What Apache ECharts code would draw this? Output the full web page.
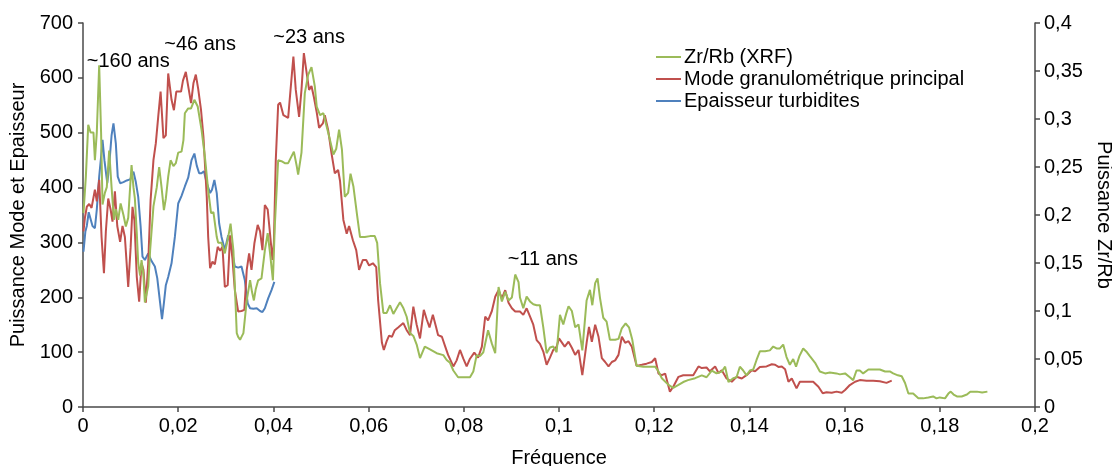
<!DOCTYPE html>
<html>
<head>
<meta charset="utf-8">
<script src="https://cdn.jsdelivr.net/npm/echarts@6/dist/echarts.min.js"></script>
<style>
html,body{margin:0;padding:0;background:#fff;}
#chart{width:1112px;height:466px;}
</style>
</head>
<body>
<div id="chart"></div>
<script>
// ---- Data ----
const seriesNames = ['Zr/Rb (XRF)', 'Mode granulométrique principal', 'Epaisseur turbidites'];
const seriesColors = ['#9BBB59', '#C0504D', '#4F81BD'];

// Zr/Rb (XRF) — right axis (Puissance Zr/Rb)
const zrRbFreq = [
0.0001,0.0006,0.0011,0.0016,0.0022,0.0025,0.0029,0.0034,0.0038,0.0041,
0.0046,0.0050,0.0055,0.0060,0.0065,0.0069,0.0074,0.0079,0.0085,0.0090,
0.0095,0.0099,0.0102,0.0106,0.0109,0.0113,0.0116,0.0120,0.0123,0.0127,
0.0130,0.0134,0.0137,0.0141,0.0148,0.0155,0.0160,0.0165,0.0170,0.0174,
0.0179,0.0184,0.0190,0.0195,0.0200,0.0207,0.0211,0.0214,0.0221,0.0227,
0.0234,0.0241,0.0249,0.0256,0.0263,0.0269,0.0274,0.0281,0.0284,0.0291,
0.0298,0.0305,0.0310,0.0316,0.0319,0.0323,0.0326,0.0330,0.0333,0.0337,
0.0344,0.0351,0.0355,0.0359,0.0363,0.0368,0.0375,0.0382,0.0388,0.0393,
0.0399,0.0403,0.0410,0.0417,0.0424,0.0431,0.0437,0.0443,0.0449,0.0452,
0.0459,0.0466,0.0473,0.0480,0.0487,0.0491,0.0498,0.0505,0.0512,0.0519,
0.0526,0.0532,0.0538,0.0544,0.0550,0.0557,0.0562,0.0568,0.0576,0.0582,
0.0592,0.0603,0.0613,0.0618,0.0624,0.0631,0.0638,0.0645,0.0652,0.0659,
0.0666,0.0673,0.0680,0.0687,0.0694,0.0701,0.0708,0.0718,0.0729,0.0743,
0.0757,0.0764,0.0771,0.0778,0.0788,0.0799,0.0813,0.0820,0.0827,0.0834,
0.0841,0.0851,0.0859,0.0866,0.0873,0.0880,0.0887,0.0894,0.0901,0.0908,
0.0915,0.0918,0.0925,0.0932,0.0939,0.0946,0.0953,0.0960,0.0967,0.0974,
0.0981,0.0988,0.0995,0.1002,0.1009,0.1015,0.1020,0.1027,0.1034,0.1041,
0.1049,0.1058,0.1065,0.1070,0.1076,0.1081,0.1086,0.1093,0.1100,0.1107,
0.1118,0.1125,0.1132,0.1140,0.1147,0.1154,0.1163,0.1177,0.1188,0.1202,
0.1209,0.1216,0.1230,0.1240,0.1251,0.1261,0.1271,0.1286,0.1300,0.1310,
0.1321,0.1331,0.1342,0.1349,0.1356,0.1366,0.1373,0.1380,0.1387,0.1394,
0.1401,0.1408,0.1415,0.1422,0.1433,0.1443,0.1450,0.1457,0.1464,0.1471,
0.1478,0.1485,0.1492,0.1498,0.1505,0.1513,0.1521,0.1527,0.1538,0.1548,
0.1559,0.1569,0.1583,0.1590,0.1601,0.1611,0.1618,0.1625,0.1632,0.1639,
0.1650,0.1664,0.1674,0.1685,0.1695,0.1702,0.1712,0.1720,0.1727,0.1734,
0.1744,0.1755,0.1765,0.1776,0.1786,0.1793,0.1800,0.1811,0.1818,0.1823,
0.1829,0.1836,0.1846,0.1857,0.1864,0.1878,0.1889,0.1900
];
const zrRbValues = [
0.202,0.240,0.294,0.286,0.286,0.257,0.286,0.356,0.286,0.211,
0.223,0.229,0.267,0.229,0.195,0.206,0.195,0.212,0.200,0.188,
0.197,0.229,0.252,0.229,0.217,0.181,0.150,0.137,0.153,0.137,
0.109,0.111,0.126,0.163,0.209,0.229,0.250,0.229,0.205,0.217,
0.240,0.257,0.251,0.254,0.265,0.266,0.278,0.306,0.311,0.311,
0.320,0.313,0.289,0.261,0.226,0.202,0.203,0.177,0.171,0.171,
0.160,0.177,0.191,0.163,0.126,0.077,0.073,0.070,0.073,0.077,
0.111,0.132,0.120,0.111,0.123,0.132,0.134,0.163,0.181,0.160,
0.132,0.189,0.257,0.256,0.254,0.254,0.260,0.266,0.251,0.242,
0.265,0.327,0.346,0.354,0.334,0.313,0.304,0.306,0.292,0.278,
0.263,0.269,0.289,0.268,0.219,0.223,0.243,0.230,0.199,0.177,
0.177,0.178,0.178,0.171,0.129,0.098,0.098,0.106,0.097,0.103,
0.109,0.103,0.094,0.077,0.074,0.065,0.051,0.063,0.060,0.056,
0.054,0.049,0.046,0.038,0.031,0.031,0.031,0.037,0.054,0.053,
0.057,0.080,0.066,0.056,0.125,0.110,0.120,0.111,0.114,0.138,
0.130,0.114,0.103,0.115,0.110,0.107,0.106,0.106,0.083,0.056,
0.062,0.063,0.057,0.096,0.086,0.097,0.105,0.100,0.083,0.086,
0.059,0.111,0.122,0.106,0.129,0.134,0.114,0.093,0.089,0.070,
0.070,0.071,0.082,0.087,0.083,0.070,0.043,0.042,0.042,0.042,
0.037,0.030,0.023,0.020,0.023,0.026,0.028,0.030,0.033,0.031,
0.038,0.035,0.037,0.042,0.026,0.030,0.031,0.042,0.038,0.033,
0.038,0.039,0.049,0.058,0.058,0.059,0.063,0.061,0.061,0.065,
0.052,0.044,0.050,0.042,0.053,0.061,0.057,0.053,0.046,0.037,
0.035,0.036,0.035,0.034,0.035,0.031,0.028,0.038,0.038,0.035,
0.039,0.039,0.039,0.037,0.037,0.035,0.033,0.032,0.025,0.014,
0.014,0.009,0.009,0.010,0.011,0.009,0.010,0.009,0.014,0.016,
0.013,0.011,0.011,0.013,0.016,0.016,0.015,0.016
];

// Mode granulométrique principal — left axis
const modeFreq = [
0.0001,0.0004,0.0008,0.0013,0.0018,0.0025,0.0029,0.0034,0.0039,0.0044,
0.0048,0.0053,0.0058,0.0062,0.0067,0.0072,0.0078,0.0083,0.0088,0.0095,
0.0100,0.0104,0.0108,0.0113,0.0118,0.0123,0.0127,0.0132,0.0137,0.0142,
0.0148,0.0153,0.0158,0.0163,0.0169,0.0174,0.0179,0.0186,0.0191,0.0196,
0.0200,0.0206,0.0210,0.0216,0.0221,0.0227,0.0232,0.0237,0.0242,0.0248,
0.0253,0.0260,0.0263,0.0267,0.0272,0.0277,0.0283,0.0288,0.0293,0.0298,
0.0304,0.0309,0.0314,0.0319,0.0326,0.0333,0.0339,0.0344,0.0349,0.0354,
0.0360,0.0367,0.0372,0.0377,0.0382,0.0388,0.0393,0.0398,0.0401,0.0405,
0.0410,0.0414,0.0421,0.0431,0.0436,0.0442,0.0447,0.0454,0.0459,0.0464,
0.0470,0.0475,0.0480,0.0485,0.0491,0.0496,0.0504,0.0508,0.0515,0.0522,
0.0529,0.0536,0.0540,0.0547,0.0554,0.0559,0.0567,0.0574,0.0580,0.0588,
0.0595,0.0601,0.0609,0.0616,0.0620,0.0628,0.0632,0.0638,0.0643,0.0649,
0.0655,0.0662,0.0673,0.0680,0.0687,0.0694,0.0701,0.0708,0.0716,0.0722,
0.0728,0.0735,0.0742,0.0746,0.0754,0.0761,0.0767,0.0778,0.0785,0.0792,
0.0799,0.0806,0.0813,0.0822,0.0830,0.0838,0.0845,0.0851,0.0859,0.0866,
0.0873,0.0880,0.0887,0.0894,0.0901,0.0908,0.0918,0.0925,0.0932,0.0939,
0.0946,0.0953,0.0960,0.0967,0.0974,0.0981,0.0988,0.0995,0.1000,0.1012,
0.1020,0.1027,0.1034,0.1041,0.1049,0.1058,0.1063,0.1069,0.1076,0.1083,
0.1090,0.1097,0.1104,0.1111,0.1118,0.1125,0.1132,0.1139,0.1146,0.1153,
0.1163,0.1174,0.1184,0.1195,0.1202,0.1209,0.1216,0.1223,0.1233,0.1240,
0.1251,0.1261,0.1271,0.1282,0.1293,0.1300,0.1310,0.1317,0.1328,0.1335,
0.1342,0.1352,0.1363,0.1373,0.1384,0.1394,0.1405,0.1412,0.1422,0.1436,
0.1447,0.1454,0.1461,0.1468,0.1475,0.1482,0.1489,0.1494,0.1499,0.1506,
0.1520,0.1534,0.1545,0.1554,0.1562,0.1573,0.1583,0.1594,0.1601,0.1611,
0.1622,0.1632,0.1646,0.1660,0.1674,0.1688,0.1699
];
const modeValues = [
320,345,365,370,363,396,375,414,310,244,
320,380,360,338,393,330,301,330,310,219,
290,365,340,237,192,262,250,190,262,377,
450,481,529,575,490,495,608,560,541,575,
578,575,595,611,585,554,590,606,580,541,
493,383,310,253,265,260,292,285,292,219,
222,313,270,213,174,175,177,250,280,250,
298,332,320,286,368,360,315,268,300,450,
551,555,532,527,578,639,578,529,578,645,
608,578,585,565,537,509,517,532,505,463,
426,432,412,341,316,330,304,286,250,268,
268,258,262,255,195,117,104,120,130,128,
140,145,153,140,131,183,150,125,177,160,
145,168,145,131,128,110,95,74,85,104,
88,74,88,99,90,110,165,158,175,201,
213,198,213,190,180,174,174,168,180,165,
150,122,115,101,77,90,104,110,125,110,
119,108,95,104,58,117,146,119,150,128,
89,82,74,82,85,95,128,117,120,110,
75,77,79,82,89,61,58,61,28,37,
55,58,58,58,74,71,72,65,74,62,
67,52,46,55,52,58,67,65,73,74,
78,77,73,74,69,46,52,43,34,46,
46,46,37,25,27,26,28,26,31,40,
46,49,48,48,47,44,48
];

// Epaisseur turbidites — left axis
const epaisseurFreq = [
0.0001,0.0005,0.0008,0.0012,0.0015,0.0020,0.0025,0.0029,0.0034,0.0038,
0.0041,0.0045,0.0051,0.0055,0.0060,0.0064,0.0069,0.0073,0.0078,0.0085,
0.0092,0.0099,0.0106,0.0111,0.0116,0.0121,0.0125,0.0130,0.0137,0.0144,
0.0151,0.0156,0.0162,0.0166,0.0170,0.0174,0.0179,0.0186,0.0193,0.0200,
0.0207,0.0214,0.0221,0.0228,0.0234,0.0239,0.0244,0.0249,0.0254,0.0260,
0.0267,0.0271,0.0276,0.0281,0.0286,0.0291,0.0298,0.0305,0.0312,0.0319,
0.0326,0.0333,0.0340,0.0346,0.0351,0.0358,0.0365,0.0372,0.0377,0.0382,
0.0389,0.0396,0.0402
];
const epaisseurValues = [
283,320,330,355,354,330,326,360,420,456,
487,450,408,440,495,517,480,420,408,410,
413,415,429,410,383,330,274,268,280,266,
256,235,190,160,190,222,237,262,310,371,
385,402,418,450,462,440,426,426,430,408,
390,396,414,390,335,310,286,313,290,256,
254,256,231,189,180,179,180,175,173,180,
198,213,228
];

// Period annotations: [frequence, puissance (left axis), text]
const annotations = [
  [0.0095, 629, '~160 ans'],
  [0.0246, 660, '~46 ans'],
  [0.0475, 674, '~23 ans'],
  [0.0966, 268, '~11 ans']
];

// Axis settings
const xTicks = {min: 0, max: 0.2, interval: 0.02};
const leftTicks = {min: 0, max: 700, interval: 100};
const rightTicks = {min: 0, max: 0.4, interval: 0.05};

// ---- Chart ----
const zip = (xs, ys) => xs.map((x, i) => [x, ys[i]]);
const FONT = '"Liberation Sans", Arial, sans-serif';
const AXIS_COLOR = '#4a4a4a';
const TXT = '#000';
const FS = 20;
const fmt = v => String(+v.toFixed(4)).replace('.', ',');

const chart = echarts.init(document.getElementById('chart'), null, {renderer: 'canvas'});
const axisCommon = {
  axisLine: {show: true, lineStyle: {color: AXIS_COLOR, width: 1.5}},
  axisTick: {show: true, length: 5, lineStyle: {color: AXIS_COLOR, width: 1.5}},
  splitLine: {show: false},
  axisLabel: {color: TXT, fontSize: FS, fontFamily: FONT, formatter: fmt},
  nameTextStyle: {color: TXT, fontSize: FS, fontFamily: FONT}
};

chart.setOption({
  animation: false,
  backgroundColor: '#fff',
  textStyle: {fontFamily: FONT},
  grid: {left: 83, right: 77, top: 23, bottom: 59, containLabel: false, outerBoundsMode: 'none'},
  legend: {
    data: seriesNames.map((n, i) => ({name: n, icon: 'rect', itemStyle: {color: seriesColors[i]}})),
    orient: 'vertical',
    left: 651, top: 42,
    itemWidth: 25, itemHeight: 2, itemGap: 2,
    textStyle: {color: TXT, fontSize: FS, lineHeight: 19, fontFamily: FONT, padding: [0, 0, 0, -2]}
  },
  xAxis: Object.assign({}, axisCommon, {
    type: 'value', min: xTicks.min, max: xTicks.max, interval: xTicks.interval,
    name: 'Fréquence', nameLocation: 'middle', nameGap: 41,
    axisLabel: Object.assign({}, axisCommon.axisLabel, {margin: 9})
  }),
  yAxis: [
    Object.assign({}, axisCommon, {
      type: 'value', position: 'left', min: leftTicks.min, max: leftTicks.max, interval: leftTicks.interval,
      name: 'Puissance Mode et Epaisseur', nameLocation: 'middle', nameGap: 55,
      axisLabel: Object.assign({}, axisCommon.axisLabel, {margin: 10})
    }),
    Object.assign({}, axisCommon, {
      type: 'value', position: 'right', min: rightTicks.min, max: rightTicks.max, interval: rightTicks.interval,
      name: 'Puissance Zr/Rb', nameLocation: 'middle', nameGap: 52, nameRotate: -90,
      axisLabel: Object.assign({}, axisCommon.axisLabel, {margin: 9})
    })
  ],
  series: [
    {
      name: seriesNames[1], type: 'line', yAxisIndex: 0, data: zip(modeFreq, modeValues),
      symbol: 'none', lineStyle: {color: seriesColors[1], width: 2}, itemStyle: {color: seriesColors[1]}, z: 3
    },
    {
      name: seriesNames[0], type: 'line', yAxisIndex: 1, data: zip(zrRbFreq, zrRbValues),
      symbol: 'none', lineStyle: {color: seriesColors[0], width: 2}, itemStyle: {color: seriesColors[0]}, z: 4
    },
    {
      name: seriesNames[2], type: 'line', yAxisIndex: 0, data: zip(epaisseurFreq, epaisseurValues),
      symbol: 'none', lineStyle: {color: seriesColors[2], width: 2}, itemStyle: {color: seriesColors[2]}, z: 2
    },
    {
      name: 'annotations', type: 'scatter', yAxisIndex: 0, silent: true,
      data: annotations.map(a => ({value: [a[0], a[1]], label: {formatter: a[2]}})),
      symbolSize: 0,
      itemStyle: {opacity: 1, color: TXT},
      label: {show: true, position: 'inside', color: TXT, opacity: 1, fontSize: FS, fontFamily: FONT},
      z: 10
    }
  ]
});
</script>
</body>
</html>
